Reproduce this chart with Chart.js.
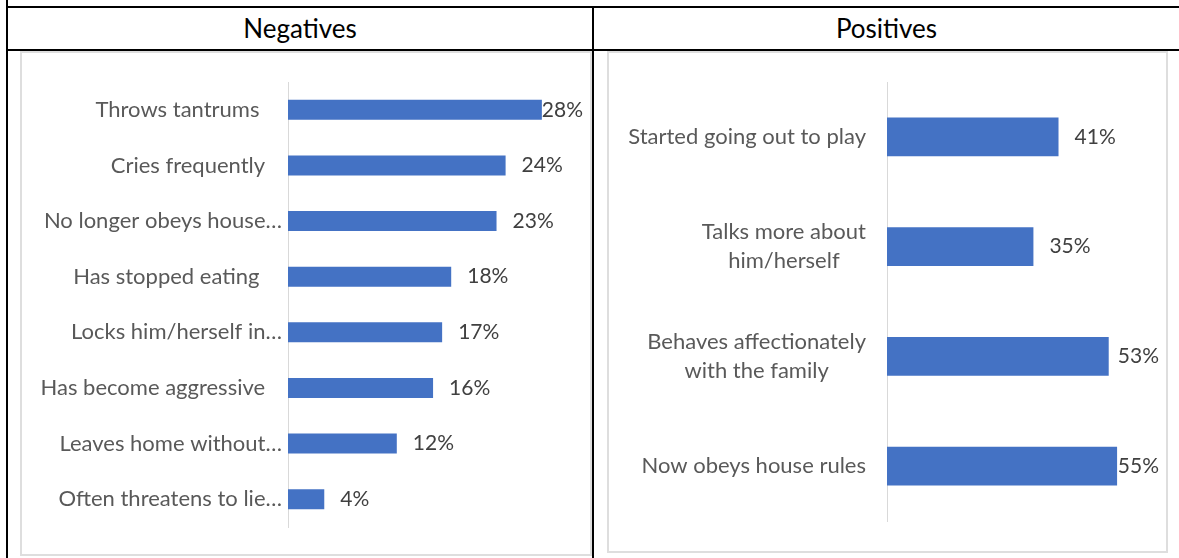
<!DOCTYPE html>
<html>
<head>
<meta charset="utf-8">
<script src="https://cdn.jsdelivr.net/npm/chart.js@4.4.1/dist/chart.umd.min.js"></script>
<style>
  body { margin:0; background:#fff; width:1179px; height:558px; overflow:hidden; position:relative; font-family:Lato, "Open Sans", sans-serif; }
  .rule { position:absolute; background:#000; }
  .head { position:absolute; top:8px; height:41px; line-height:41px; text-align:center; font-size:26px; color:#000; }
  .box  { position:absolute; border:2px solid #dedede; box-sizing:border-box; }
  canvas { position:absolute; }
</style>
</head>
<body>
  <div class="rule" style="left:6px;top:6px;width:1173px;height:2px"></div>
  <div class="rule" style="left:6px;top:0;width:2px;height:558px"></div>
  <div class="rule" style="left:6px;top:49px;width:1173px;height:2px"></div>
  <div class="rule" style="left:592px;top:6px;width:2px;height:552px"></div>

  <div class="head" style="left:8px;width:584px">Negatives</div>
  <div class="head" style="left:594px;width:585px">Positives</div>

  <div class="box" style="left:20px;top:51px;width:572px;height:505px"></div>
  <div class="box" style="left:607px;top:51px;width:561px;height:502px"></div>

  <canvas id="negChart" width="568" height="502" style="left:22px;top:52px"></canvas>
  <canvas id="posChart" width="557" height="499" style="left:609px;top:52px"></canvas>

<script>
// ── Data ─────────────────────────────────────────────────────
const negLabels = [
  'Throws tantrums    ',
  'Cries frequently   ',
  'No longer obeys house…',
  'Has stopped eating    ',
  'Locks him/herself in…',
  'Has become aggressive   ',
  'Leaves home without…',
  'Often threatens to lie…'
];
const negValues = [28, 24, 23, 18, 17, 16, 12, 4];

const posLabels = [
  'Started going out to play',
  ['Talks more about', 'him/herself'],
  ['Behaves affectionately', 'with the family'],
  'Now obeys house rules'
];
const posValues = [41, 35, 53, 55];

const BAR    = '#4472C4';
const FONT   = '22px Lato, "Open Sans", sans-serif';
const VFONT  = '21px Lato, "Open Sans", sans-serif';
const LINE_H = 29;

// ── Category labels: lines centred inside a right-aligned block ──
const catLabels = {
  id: 'catLabels',
  afterDraw(chart, args, opts) {
    const y = chart.scales.y, ctx = chart.ctx;
    const right = chart.chartArea.left - opts.gap;
    ctx.save();
    ctx.font = FONT;
    ctx.fillStyle = '#595959';
    ctx.textAlign = 'center';
    ctx.textBaseline = 'middle';
    chart.data.labels.forEach((lab, i) => {
      const lines = [].concat(lab);
      const w = Math.max(...lines.map(l => ctx.measureText(l).width));
      const cy = y.getPixelForValue(i);
      lines.forEach((l, k) =>
        ctx.fillText(l, right - w / 2, cy + (k - (lines.length - 1) / 2) * LINE_H));
    });
    ctx.restore();
  }
};

// ── Value labels after the bar end, kept inside the chart box ──
const valueLabels = {
  id: 'valueLabels',
  afterDatasetsDraw(chart) {
    const ctx = chart.ctx;
    const vals = chart.data.datasets[0].data;
    ctx.save();
    ctx.font = VFONT;
    ctx.fillStyle = '#404040';
    ctx.textAlign = 'left';
    ctx.textBaseline = 'middle';
    chart.getDatasetMeta(0).data.forEach((bar, i) => {
      const txt = vals[i] + '%';
      const w = ctx.measureText(txt).width;
      const x = Math.min(bar.x + 16, chart.width - 7 - w);
      ctx.fillText(txt, x, bar.y);
    });
    ctx.restore();
  }
};

// ── Chart factory ────────────────────────────────────────────
function makeBar(id, labels, values, max, thick, axisW, gap, pad) {
  return new Chart(document.getElementById(id), {
    type: 'bar',
    data: {
      labels,
      datasets: [{ data: values, backgroundColor: BAR, categoryPercentage: 1, barPercentage: thick }]
    },
    options: {
      indexAxis: 'y',
      responsive: false,
      animation: false,
      layout: { padding: pad },
      plugins: { legend: { display: false }, tooltip: { enabled: false }, catLabels: { gap } },
      scales: {
        x: { display: false, min: 0, max },
        y: {
          grid: { display: false },
          border: { display: true, color: '#d9d9d9', width: 1 },
          ticks: { display: false },
          afterFit(s) { s.width = axisW; }
        }
      }
    },
    plugins: [catLabels, valueLabels]
  });
}

makeBar('negChart', negLabels, negValues, 30, 0.36, 266, 6,  { top: 30, bottom: 27, right: 30 });
makeBar('posChart', posLabels, posValues, 60, 0.355, 278, 21, { top: 30, bottom: 30, right: 28 });
</script>
</body>
</html>
